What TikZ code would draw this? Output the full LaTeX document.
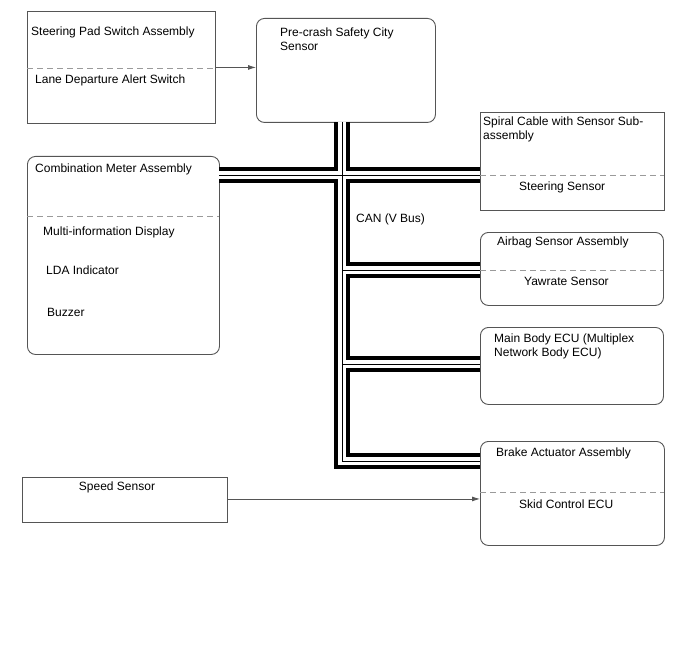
\documentclass[tikz,border=0pt]{standalone}
\usepackage{fontspec}
\setmainfont{Liberation Sans}
\usepackage{tikz}
\usetikzlibrary{arrows.meta,calc}
\definecolor{edgegray}{HTML}{555555}
\definecolor{dashgray}{HTML}{9A9A9A}
\tikzstyle{blk} = [draw=edgegray, line width=0.9pt, anchor=north west, inner sep=0pt]
\tikzstyle{rblk} = [blk, rounded corners=8pt]
\tikzstyle{lbl} = [anchor=west, inner sep=0pt, align=left, font=\fontsize{12}{14}\selectfont, yshift=-1.5pt]
\tikzstyle{divider} = [dashgray, line width=0.9pt, dash pattern=on 6pt off 4pt]
\tikzstyle{sig} = [edgegray, line width=0.8pt, -{Latex[length=8pt,width=5pt]}]

\begin{document}
\begin{tikzpicture}[x=1pt,y=-1pt]
\useasboundingbox (0,0) rectangle (688,658);

% boxes
\node[blk, minimum width=188pt, minimum height=112pt] (spsw) at (27,11) {};
\node[rblk, minimum width=179pt, minimum height=104pt] (pcs) at (256,18) {};
\node[blk, minimum width=184pt, minimum height=98pt] (spiral) at (480,112) {};
\node[rblk, minimum width=192pt, minimum height=198pt] (cmb) at (27,156) {};
\node[rblk, minimum width=183pt, minimum height=73pt] (airbag) at (480,232) {};
\node[rblk, minimum width=183pt, minimum height=77pt] (mbecu) at (480,327) {};
\node[rblk, minimum width=184pt, minimum height=104pt] (brake) at (480,441) {};
\node[blk, minimum width=205pt, minimum height=45pt] (speed) at (22,477) {};

% dashed dividers
\draw[divider] (27,68) -- (215,68);
\draw[divider] (480,175) -- (664,175);
\draw[divider] (27,216) -- (219,216);
\draw[divider] (480,270) -- (663,270);
\draw[divider] (480,492) -- (664,492);

% texts
\node[lbl] (spswt) at (31,31) {Steering Pad Switch Assembly};
\node[lbl] (lda) at (35,79) {Lane Departure Alert Switch};
\node[lbl] (pcst) at (280,37.5) {Pre-crash Safety City\\Sensor};
\node[lbl] (spiralt) at (483,128) {Spiral Cable with Sensor Sub-\\assembly};
\node[lbl] (steer) at (519,186) {Steering Sensor};
\node[lbl] (cmbt) at (35,168) {Combination Meter Assembly};
\node[lbl] (mid) at (43,231) {Multi-information Display};
\node[lbl] (ldaind) at (46,269) {LDA Indicator};
\node[lbl] (buzz) at (47,311) {Buzzer};
\node[lbl] (can) at (356,218) {CAN (V Bus)};
\node[lbl] (airbagt) at (497,241) {Airbag Sensor Assembly};
\node[lbl] (yaw) at (524,280) {Yawrate Sensor};
\node[lbl] (mbecut) at (494,345) {Main Body ECU (Multiplex\\Network Body ECU)};
\node[lbl] (braket) at (496,452) {Brake Actuator Assembly};
\node[lbl] (skid) at (519,503) {Skid Control ECU};
\node[lbl, anchor=center] (speedt) at (117,486) {Speed Sensor};

% signal arrows
\draw[sig] (spsw.east) -- (spsw.east -| pcs.west);
\draw[sig] ([yshift=1pt]speed.east) -- ([yshift=1pt]speed.east -| brake.west);

% CAN bus taps
\coordinate (tpcs) at (342,122);
\coordinate (tcmb) at (219,175);
\coordinate (tspiral) at (480,175);
\coordinate (tairbag) at (480,270);
\coordinate (tmbecu) at (480,364);
\coordinate (tbrake) at (480,461);

\foreach \w/\c in {16pt/black, 8pt/white, 0.8pt/black} {
    \draw[line width=\w, \c] (tcmb) -- (tspiral);
    \draw[line width=\w, \c, line join=miter] (tpcs) -- (tpcs |- tbrake) -- (tbrake);
    \draw[line width=\w, \c] (tpcs |- tairbag) -- (tairbag);
    \draw[line width=\w, \c] (tpcs |- tmbecu) -- (tmbecu);
}
\end{tikzpicture}
\end{document}
